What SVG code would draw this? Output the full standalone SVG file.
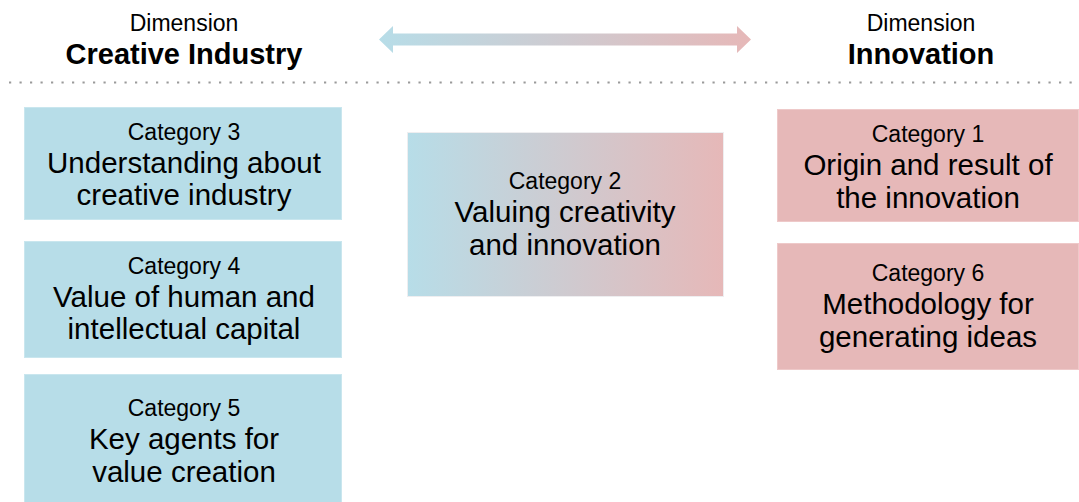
<svg xmlns="http://www.w3.org/2000/svg" width="1079" height="502" viewBox="0 0 1079 502">
  <defs>
    <linearGradient id="blendH" x1="0" y1="0" x2="1" y2="0">
      <stop offset="0" stop-color="#B7DDE8"/>
      <stop offset="1" stop-color="#E6B8B8"/>
    </linearGradient>
    <style>
      text { font-family: "Liberation Sans", Arial, sans-serif; fill: #000; text-anchor: middle; }
      .dim { font-size: 23px; }
      .head { font-size: 29px; font-weight: bold; }
      .cat { font-size: 23px; }
      .lbl { font-size: 29.5px; }
      .blue { fill: #B7DDE8; stroke: #C9E6EE; stroke-width: 1; }
      .pink { fill: #E6B8B8; stroke: #EEC9C9; stroke-width: 1; }
      .mix { fill: url(#blendH); stroke: #EEEEF0; stroke-width: 1; }
    </style>
  </defs>
  <rect width="1079" height="502" fill="#FFFFFF"/>

  <!-- dimension headers -->
  <g id="dim-creative">
    <text class="dim" x="184" y="31">Dimension</text>
    <text class="head" x="184" y="64">Creative Industry</text>
  </g>
  <g id="dim-innovation">
    <text class="dim" x="921" y="31">Dimension</text>
    <text class="head" x="921" y="64">Innovation</text>
  </g>

  <!-- connectors: double arrow between dimensions and dotted separator -->
  <g id="connectors">
    <polygon points="379,39.5 393,26 393,33.5 737,33.5 737,26 751,39.5 737,53 737,45.5 393,45.5 393,53" fill="url(#blendH)"/>
    <line x1="9" y1="82.5" x2="1079" y2="82.5" stroke="#9A9A9A" stroke-width="2.2" stroke-dasharray="2.2 8.3"/>
  </g>

  <g id="cat3">
    <rect class="blue" x="24.5" y="107.5" width="317" height="112"/>
    <text class="cat" x="184" y="140">Category 3</text>
    <text class="lbl" x="184" y="173">Understanding about</text>
    <text class="lbl" x="184" y="205">creative industry</text>
  </g>
  <g id="cat4">
    <rect class="blue" x="24.5" y="241.5" width="317" height="116"/>
    <text class="cat" x="184" y="274">Category 4</text>
    <text class="lbl" x="184" y="307">Value of human and</text>
    <text class="lbl" x="184" y="339">intellectual capital</text>
  </g>
  <g id="cat5">
    <rect class="blue" x="24.5" y="374.5" width="317" height="140"/>
    <text class="cat" x="184" y="416">Category 5</text>
    <text class="lbl" x="184" y="449">Key agents for</text>
    <text class="lbl" x="184" y="482">value creation</text>
  </g>
  <g id="cat2">
    <rect class="mix" x="407.5" y="132.5" width="316" height="164"/>
    <text class="cat" x="565" y="189">Category 2</text>
    <text class="lbl" x="565" y="222">Valuing creativity</text>
    <text class="lbl" x="565" y="255">and innovation</text>
  </g>
  <g id="cat1">
    <rect class="pink" x="777.5" y="109.5" width="301" height="112"/>
    <text class="cat" x="928" y="142">Category 1</text>
    <text class="lbl" x="928" y="175">Origin and result of</text>
    <text class="lbl" x="928" y="208">the innovation</text>
  </g>
  <g id="cat6">
    <rect class="pink" x="777.5" y="243.5" width="301" height="126"/>
    <text class="cat" x="928" y="281">Category 6</text>
    <text class="lbl" x="928" y="314">Methodology for</text>
    <text class="lbl" x="928" y="347">generating ideas</text>
  </g>
</svg>
